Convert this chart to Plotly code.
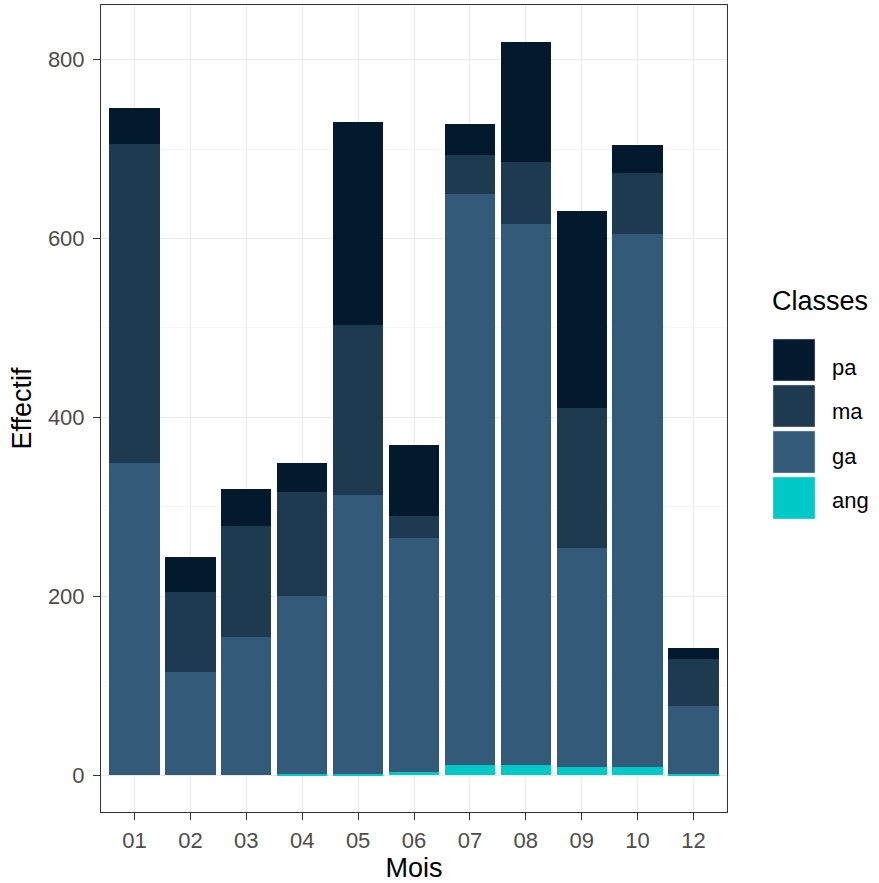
import plotly.graph_objects as go

mois = ["01", "02", "03", "04", "05", "06", "07", "08", "09", "10", "12"]
ang = [0, 0, 0, 2, 2, 4, 12, 12, 9, 9, 1]
ga = [349, 116, 155, 198, 311, 261, 638, 604, 245, 596, 76]
ma = [357, 89, 124, 117, 190, 25, 43, 70, 157, 68, 53]
pa = [40, 39, 41, 32, 227, 79, 35, 134, 220, 31, 12]

series = [("ang", ang, "#00C9C8", 4), ("ga", ga, "#335A79", 3), ("ma", ma, "#1D3A51", 2), ("pa", pa, "#03192E", 1)]

W, H = 879, 883
L, R, T, B = 101, 152, 5, 71
pw, ph = W - L - R, H - T - B


def px_x(px):
    return (px - L) / pw


def px_y(py):
    return (H - B - py) / ph


fig = go.Figure()
for name, vals, col, rank in series:
    fig.add_trace(go.Bar(x=mois, y=vals, name=name, legendgroup=name, legendrank=rank,
                         marker=dict(color=col, line=dict(width=0))))

# large legend keys (ggplot-style) drawn behind the legend symbols
key_tops = {"pa": 339, "ma": 385, "ga": 431, "ang": 477}
for name, vals, col, rank in series:
    t = key_tops[name]
    fig.add_shape(type="rect", xref="paper", yref="paper",
                  x0=px_x(773), x1=px_x(815), y0=px_y(t + 42), y1=px_y(t),
                  fillcolor=col, line=dict(color="#D0D5DA", width=0.5))

font = "Liberation Sans, Arial, sans-serif"
fig.update_layout(
    width=W, height=H,
    margin=dict(l=L, r=R, t=T, b=B),
    barmode="stack", bargap=0.1,
    plot_bgcolor="white", paper_bgcolor="white",
    font=dict(family=font, color="black"),
    legend=dict(
        title=dict(text="Classes<br>", font=dict(size=27, color="black")),
        traceorder="grouped",
        bgcolor="rgba(0,0,0,0)",
        font=dict(size=22, color="black"),
        x=px_x(770), xanchor="left", y=px_y(275), yanchor="top",
        tracegroupgap=13, itemwidth=52,
    ),
    xaxis=dict(
        title=dict(text="Mois", font=dict(size=27, color="black"), standoff=6),
        type="category", categoryorder="array", categoryarray=mois,
        range=[-0.6, 10.6],
        showgrid=True, gridcolor="#EBEBEB", gridwidth=1.1,
        ticks="outside", ticklen=7, tickwidth=1.1, tickcolor="#333333",
        tickfont=dict(size=22, color="#4D4D4D"), ticklabelstandoff=2,
        showline=True, mirror=True, linecolor="#333333", linewidth=1,
        zeroline=False,
    ),
    yaxis=dict(
        title=dict(text="Effectif", font=dict(size=27, color="black"), standoff=8),
        range=[-41, 861],
        tickvals=[0, 200, 400, 600, 800],
        showgrid=True, gridcolor="#EBEBEB", gridwidth=1.1,
        minor=dict(tickvals=[100, 300, 500, 700], showgrid=True, gridcolor="#F5F5F5", gridwidth=0.6, ticks=""),
        ticks="outside", ticklen=7, tickwidth=1.1, tickcolor="#333333",
        tickfont=dict(size=22, color="#4D4D4D"), ticklabelstandoff=4,
        showline=True, mirror=True, linecolor="#333333", linewidth=1,
        zeroline=False,
    ),
)

fig.write_html("out.html", config={"displayModeBar": False},
               post_script="document.body.style.margin='0';")
